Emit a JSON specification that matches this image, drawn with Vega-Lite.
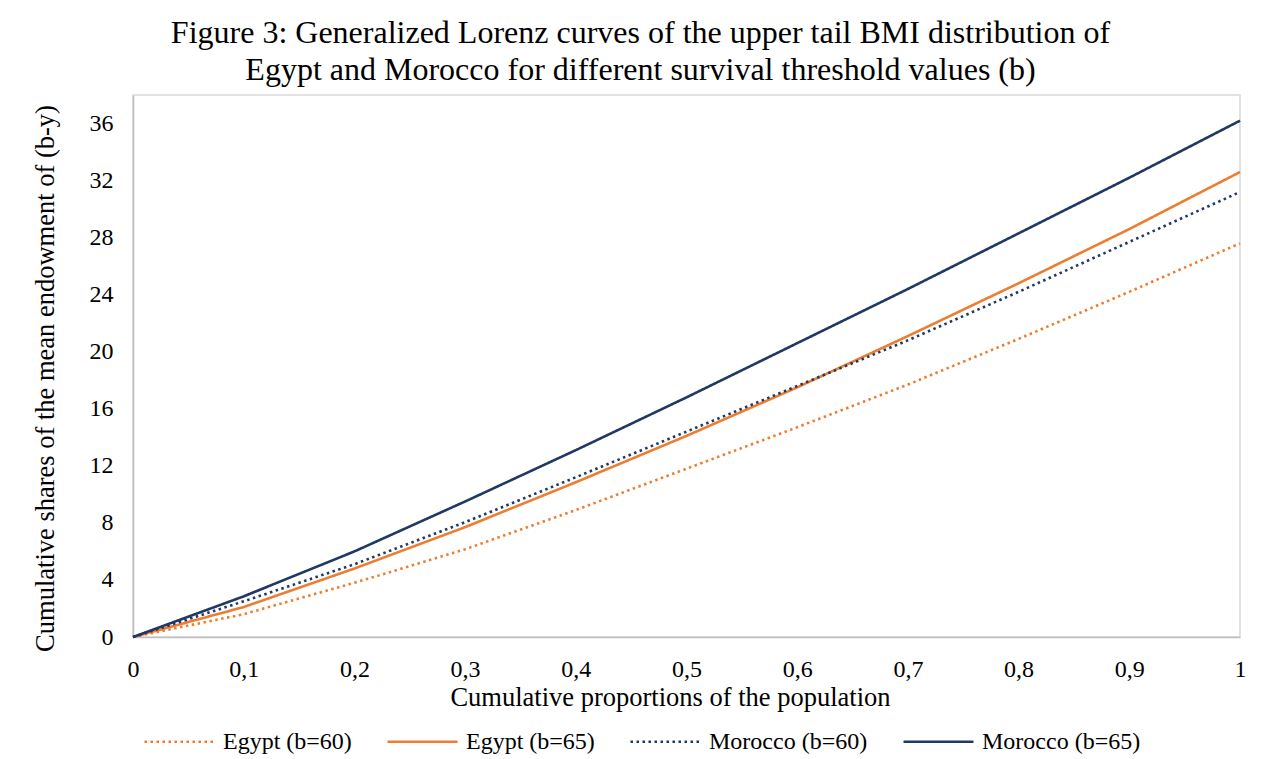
{
  "$schema": "https://vega.github.io/schema/vega-lite/v6.json",
  "width": 1107,
  "height": 542,
  "autosize": "none",
  "padding": {"left": 133, "top": 95, "right": 22, "bottom": 122},
  "background": "white",
  "title": {
    "text": ["Figure 3: Generalized Lorenz curves of the upper tail BMI distribution of", "Egypt and Morocco for different survival threshold values (b)"],
    "font": "Liberation Serif",
    "fontSize": 32,
    "fontWeight": "normal",
    "color": "#000000",
    "anchor": "middle",
    "dx": -46,
    "offset": 8,
    "lineHeight": 37
  },
  "data": {
    "values": [
      {"p": 0, "s": "Egypt (b=60)", "v": 0},
      {"p": 0.1, "s": "Egypt (b=60)", "v": 1.6},
      {"p": 0.2, "s": "Egypt (b=60)", "v": 3.8},
      {"p": 0.3, "s": "Egypt (b=60)", "v": 6.15},
      {"p": 0.4, "s": "Egypt (b=60)", "v": 8.9},
      {"p": 0.5, "s": "Egypt (b=60)", "v": 11.8},
      {"p": 0.6, "s": "Egypt (b=60)", "v": 14.7},
      {"p": 0.7, "s": "Egypt (b=60)", "v": 17.7},
      {"p": 0.8, "s": "Egypt (b=60)", "v": 20.9},
      {"p": 0.9, "s": "Egypt (b=60)", "v": 24.2},
      {"p": 1, "s": "Egypt (b=60)", "v": 27.6},
      {"p": 0, "s": "Egypt (b=65)", "v": 0},
      {"p": 0.1, "s": "Egypt (b=65)", "v": 2.1},
      {"p": 0.2, "s": "Egypt (b=65)", "v": 4.8},
      {"p": 0.3, "s": "Egypt (b=65)", "v": 7.7},
      {"p": 0.4, "s": "Egypt (b=65)", "v": 10.85},
      {"p": 0.5, "s": "Egypt (b=65)", "v": 14.1},
      {"p": 0.6, "s": "Egypt (b=65)", "v": 17.5},
      {"p": 0.7, "s": "Egypt (b=65)", "v": 21.1},
      {"p": 0.8, "s": "Egypt (b=65)", "v": 24.8},
      {"p": 0.9, "s": "Egypt (b=65)", "v": 28.6},
      {"p": 1, "s": "Egypt (b=65)", "v": 32.6},
      {"p": 0, "s": "Morocco (b=60)", "v": 0},
      {"p": 0.1, "s": "Morocco (b=60)", "v": 2.5},
      {"p": 0.2, "s": "Morocco (b=60)", "v": 5.1},
      {"p": 0.3, "s": "Morocco (b=60)", "v": 8.05},
      {"p": 0.4, "s": "Morocco (b=60)", "v": 11.2},
      {"p": 0.5, "s": "Morocco (b=60)", "v": 14.4},
      {"p": 0.6, "s": "Morocco (b=60)", "v": 17.6},
      {"p": 0.7, "s": "Morocco (b=60)", "v": 20.8},
      {"p": 0.8, "s": "Morocco (b=60)", "v": 24.2},
      {"p": 0.9, "s": "Morocco (b=60)", "v": 27.7},
      {"p": 1, "s": "Morocco (b=60)", "v": 31.2},
      {"p": 0, "s": "Morocco (b=65)", "v": 0},
      {"p": 0.1, "s": "Morocco (b=65)", "v": 2.85},
      {"p": 0.2, "s": "Morocco (b=65)", "v": 6.0},
      {"p": 0.3, "s": "Morocco (b=65)", "v": 9.5},
      {"p": 0.4, "s": "Morocco (b=65)", "v": 13.1},
      {"p": 0.5, "s": "Morocco (b=65)", "v": 16.8},
      {"p": 0.6, "s": "Morocco (b=65)", "v": 20.6},
      {"p": 0.7, "s": "Morocco (b=65)", "v": 24.4},
      {"p": 0.8, "s": "Morocco (b=65)", "v": 28.3},
      {"p": 0.9, "s": "Morocco (b=65)", "v": 32.2},
      {"p": 1, "s": "Morocco (b=65)", "v": 36.2}
    ]
  },
  "mark": {"type": "line", "strokeWidth": 2.6, "clip": false},
  "encoding": {
    "x": {
      "field": "p",
      "type": "quantitative",
      "scale": {"domain": [0, 1], "nice": false, "zero": false},
      "axis": {
        "title": "Cumulative proportions of the population",
        "values": [0, 0.1, 0.2, 0.3, 0.4, 0.5, 0.6, 0.7, 0.8, 0.9, 1],
        "labelExpr": "replace(toString(datum.value), '.', ',')",
        "labelFlush": false,
        "labelOverlap": false,
        "grid": false,
        "ticks": false,
        "labelPadding": 20,
        "titlePadding": 3,
        "titleX": 537
      }
    },
    "y": {
      "field": "v",
      "type": "quantitative",
      "scale": {"domain": [0, 38], "nice": false},
      "axis": {
        "title": "Cumulative shares of the mean endowment of (b-y)",
        "values": [0, 4, 8, 12, 16, 20, 24, 28, 32, 36],
        "labelFlush": false,
        "grid": false,
        "ticks": false,
        "labelPadding": 20,
        "titlePadding": 30,
        "titleY": 283
      }
    },
    "color": {
      "field": "s",
      "type": "nominal",
      "scale": {
        "domain": ["Egypt (b=60)", "Egypt (b=65)", "Morocco (b=60)", "Morocco (b=65)"],
        "range": ["#ED7D31", "#ED7D31", "#203864", "#203864"]
      },
      "legend": {
        "title": null,
        "orient": "none",
        "legendX": 10,
        "legendY": 610,
        "direction": "horizontal",
        "columns": 4,
        "symbolType": "stroke",
        "symbolSize": 4900,
        "symbolStrokeWidth": 2.6,
        "labelFont": "Liberation Serif",
        "labelFontSize": 24,
        "labelColor": "#000000",
        "labelOffset": 7,
        "columnPadding": 30
      }
    },
    "strokeDash": {
      "field": "s",
      "type": "nominal",
      "scale": {
        "domain": ["Egypt (b=60)", "Egypt (b=65)", "Morocco (b=60)", "Morocco (b=65)"],
        "range": [[2.5, 3.5], [1, 0], [2.5, 3.5], [1, 0]]
      },
      "legend": {
        "title": null,
        "orient": "none",
        "legendX": 10,
        "legendY": 610,
        "direction": "horizontal",
        "columns": 4,
        "symbolType": "stroke",
        "symbolSize": 4900,
        "symbolStrokeWidth": 2.6,
        "labelFont": "Liberation Serif",
        "labelFontSize": 24,
        "labelColor": "#000000",
        "labelOffset": 7,
        "columnPadding": 30
      }
    }
  },
  "config": {
    "view": {"stroke": "#D9D9D9", "strokeWidth": 1.5},
    "axis": {
      "domainColor": "#BFBFBF",
      "domainWidth": 1.5,
      "labelFont": "Liberation Serif",
      "labelFontSize": 24,
      "labelColor": "#000000",
      "titleFont": "Liberation Serif",
      "titleFontSize": 26.5,
      "titleFontWeight": "normal",
      "titleColor": "#000000"
    }
  }
}
